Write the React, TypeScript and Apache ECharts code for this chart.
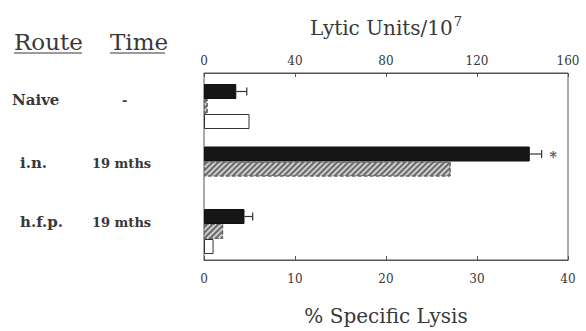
import React, { useEffect, useRef } from "react";
import * as echarts from "echarts";

const routes = ["Naive", "i.n.", "h.f.p."];
const times = ["-", "19 mths", "19 mths"];
const solidLysis = [3.55, 35.8, 4.45];
const solidErr = [1.15, 1.3, 0.9];
const hatchedLysis = [0.4, 27.1, 2.1];
const openLysis = [5.0, null, 1.05];
const marks = ["", "*", ""];
const lysisTicks = { min: 0, max: 40, interval: 10 };
const luTicks = { min: 0, max: 160, interval: 40 };

const FONT = "DejaVu Serif";
const TXT = "#383838";
const BAR_W = 15;

export default function App() {
  const ref = useRef<HTMLDivElement>(null);
  useEffect(() => {
    const chart = echarts.init(ref.current!, undefined, { renderer: "svg" });
    const rowY = [100, 163, 222];
    const graphics: any[] = [
      { type: "text", left: 14, top: 30, style: { text: "Route", fontFamily: FONT, fontSize: 23, fill: TXT } },
      { type: "line", shape: { x1: 14, y1: 53, x2: 82, y2: 53 }, style: { stroke: TXT, lineWidth: 1.2 } },
      { type: "text", left: 110, top: 30, style: { text: "Time", fontFamily: FONT, fontSize: 23, fill: TXT } },
      { type: "line", shape: { x1: 110, y1: 53, x2: 165, y2: 53 }, style: { stroke: TXT, lineWidth: 1.2 } },
    ];
    routes.forEach((r, i) => {
      graphics.push({
        type: "text",
        x: i === 0 ? 12 : 20,
        y: rowY[i],
        style: { text: r, fontFamily: FONT, fontSize: 15, fontWeight: "bold", fill: TXT, verticalAlign: "middle" },
      });
      graphics.push({
        type: "text",
        x: times[i] === "-" ? 122 : 92,
        y: rowY[i],
        style: { text: times[i], fontFamily: FONT, fontSize: 13, fontWeight: "bold", fill: TXT, verticalAlign: "middle" },
      });
    });

    chart.setOption({
      animation: false,
      grid: [
        { left: 204, right: 18, top: 73, bottom: 61, show: true, borderColor: "#555" },
        { left: 204, right: 18, top: 75.25, bottom: 68.25 },
      ],
      xAxis: [
        {
          gridIndex: 0,
          type: "value",
          position: "bottom",
          ...lysisTicks,
          axisLine: { show: true, lineStyle: { color: "#555" } },
          axisTick: { show: true, inside: true, length: 4, lineStyle: { color: "#555" } },
          axisLabel: { fontFamily: FONT, fontSize: 12, color: TXT, margin: 13 },
          splitLine: { show: false },
          name: "% Specific Lysis",
          nameLocation: "middle",
          nameGap: 46,
          nameTextStyle: { fontFamily: FONT, fontSize: 20, color: TXT },
        },
        {
          gridIndex: 0,
          type: "value",
          position: "top",
          ...luTicks,
          axisLine: { show: true, lineStyle: { color: "#555" } },
          axisTick: { show: true, inside: true, length: 4, lineStyle: { color: "#555" } },
          axisLabel: { fontFamily: FONT, fontSize: 12, color: TXT, margin: 6 },
          splitLine: { show: false },
          name: "{a|Lytic Units/10}{b|7}",
          nameLocation: "middle",
          nameGap: 35,
          nameTextStyle: {
            fontFamily: FONT,
            fontSize: 20,
            color: TXT,
            rich: {
              a: { fontFamily: FONT, fontSize: 20, color: TXT, verticalAlign: "bottom" },
              b: { fontFamily: FONT, fontSize: 13, color: TXT, verticalAlign: "top", padding: [0, 0, 10, 1] },
            },
          },
        },
        { gridIndex: 1, type: "value", ...lysisTicks, show: false },
      ],
      yAxis: [
        { gridIndex: 0, type: "value", show: false },
        { gridIndex: 1, type: "category", data: routes, inverse: true, show: false },
      ],
      graphic: graphics,
      series: [
        {
          type: "bar",
          xAxisIndex: 2,
          yAxisIndex: 1,
          data: solidLysis,
          barWidth: BAR_W,
          barGap: "0%",
          itemStyle: { color: "#161616", borderColor: "#111", borderWidth: 1 },
        },
        {
          type: "bar",
          xAxisIndex: 2,
          yAxisIndex: 1,
          data: hatchedLysis,
          barWidth: BAR_W,
          barGap: "0%",
          itemStyle: {
            color: "#cfcfcf",
            borderColor: "#666",
            borderWidth: 1,
            borderType: "dashed",
            decal: {
              symbol: "rect",
              symbolSize: 1,
              color: "#6a6a6a",
              dashArrayX: [1, 0],
              dashArrayY: [1.2, 2],
              rotation: -Math.PI / 4,
            },
          },
        },
        {
          type: "bar",
          xAxisIndex: 2,
          yAxisIndex: 1,
          data: openLysis.map((v) => (v == null ? "-" : v)),
          barWidth: BAR_W,
          barGap: "0%",
          itemStyle: { color: "#fff", borderColor: "#333", borderWidth: 1 },
        },
        {
          type: "custom",
          xAxisIndex: 2,
          yAxisIndex: 1,
          data: solidLysis.map((v, i) => [v, i, solidErr[i]]),
          renderItem: (params: any, api: any) => {
            const v = api.value(0);
            const cat = api.value(1);
            const e = api.value(2);
            const s = api.coord([v, cat]);
            const t = api.coord([v + e, cat]);
            const y = s[1] - BAR_W;
            const children: any[] = [
              { type: "line", shape: { x1: s[0], y1: y, x2: t[0], y2: y }, style: { stroke: "#333", lineWidth: 1.2 } },
              { type: "line", shape: { x1: t[0], y1: y - 4, x2: t[0], y2: y + 4 }, style: { stroke: "#333", lineWidth: 1.2 } },
            ];
            const m = marks[params.dataIndex];
            if (m) {
              children.push({
                type: "text",
                style: { text: m, x: t[0] + 8, y: y + 3, fontFamily: FONT, fontSize: 14, fontWeight: "bold", fill: "#555", verticalAlign: "middle" },
              });
            }
            return { type: "group", children };
          },
        },
      ],
    });
    return () => chart.dispose();
  }, []);
  return (
    <>
      <style>{`.lysis-chart svg text, .lysis-chart svg tspan { font-family: 'DejaVu Serif', serif !important; }`}</style>
      <div className="lysis-chart" ref={ref} style={{ width: 586, height: 331, position: "absolute", left: 0, top: 0, fontFamily: "'DejaVu Serif', serif" }} />
    </>
  );
}
